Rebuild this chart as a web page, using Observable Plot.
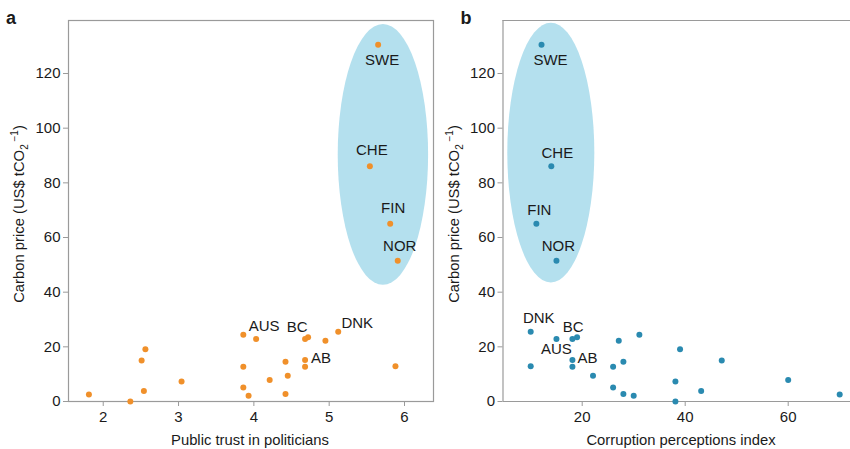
<!DOCTYPE html>
<html>
<head>
<meta charset="utf-8">
<script src="https://cdn.jsdelivr.net/npm/d3@7"></script>
<script src="https://cdn.jsdelivr.net/npm/@observablehq/plot@0.6"></script>
<style>
  body { margin: 0; background: white; }
  #wrap { display: flex; width: 850px; height: 449px; overflow: hidden; }
  svg { overflow: hidden; }
</style>
</head>
<body>
<div id="wrap"></div>
<script>
// ---- data ----
const codes = ["SWE","CHE","FIN","NOR","DNK","AUS","BC","AB","","","","","","","","","","","","","","","","","",""];
const carbonPrice = [130.5, 86.1, 65.0, 51.5, 25.5, 22.9, 23.5, 15.2, 24.4, 22.9, 22.2, 19.1, 15.0, 14.5, 12.9, 12.7, 12.7, 9.4, 7.9, 7.3, 5.1, 3.8, 2.7, 2.6, 2.1, 0];
const publicTrust = [5.65, 5.54, 5.81, 5.91, 5.12, 4.03, 4.72, 4.68, 3.86, 4.68, 4.95, 2.56, 2.51, 4.42, 5.88, 4.68, 3.86, 4.45, 4.21, 3.04, 3.86, 2.54, 4.42, 1.81, 3.93, 2.36];
const corruption = [12.1, 14.0, 11.1, 15.0, 10.0, 15.0, 19.0, 18.1, 31.1, 18.1, 27.1, 39.0, 47.1, 28.0, 10.0, 18.1, 26.0, 22.1, 60.0, 38.1, 26.0, 43.1, 28.0, 70.0, 30.0, 38.1];
const yTicks = [0, 20, 40, 60, 80, 100, 120];
const xTicksA = [2, 3, 4, 5, 6];
const xTicksB = [20, 40, 60];
// highlight ellipse (centre and half-axes in data units)
const ellipseA = {cx: 5.72, cy: 90.2, rx: 0.60, ry: 47.7};
const ellipseB = {cx: 14.0, cy: 90.9, rx: 8.45, ry: 47.5};

const rows = codes.map((c, i) => ({code: c, price: carbonPrice[i], trust: publicTrust[i], cpi: corruption[i]}));

// ---- label offsets (styling) ----
const offsA = {SWE:[4,15], CHE:[2,-16], FIN:[3,-16], NOR:[2,-15], AUS:[8,-13], BC:[-11,-10], AB:[16,-2], DNK:[19,-9]};
const offsB = {SWE:[9,15], CHE:[6,-13], FIN:[3,-14], NOR:[2,-15], DNK:[8,-14], BC:[-4,-10], AUS:[0,10], AB:[15,-2]};

const FONT = "'Liberation Sans', Arial, Helvetica, sans-serif";
const GRAY = "#9a9a9a";
const TXT = "#1a1a1a";

function ellipseMark(e) {
  return (index, scales) => {
    const x = scales.x, y = scales.y;
    return d3.create("svg:ellipse")
      .attr("cx", x(e.cx)).attr("cy", y(e.cy))
      .attr("rx", Math.abs(x(e.cx + e.rx) - x(e.cx)))
      .attr("ry", Math.abs(y(e.cy + e.ry) - y(e.cy)))
      .attr("fill", "#b4e0ee")
      .node();
  };
}

function labelMarks(xKey, offs) {
  return Object.entries(offs).map(([code, [dx, dy]]) =>
    Plot.text(rows.filter(d => d.code === code), {
      x: xKey, y: "price", text: "code", dx, dy,
      fontSize: 15, fill: TXT, textAnchor: "middle", lineAnchor: "middle"
    }));
}

function panel({width, marginLeft, marginRight, xDomain, xKey, xTicks, ell, offs, color, full}) {
  const ymax = 139.4;
  const frameMarks = full
    ? [Plot.frame({stroke: GRAY, strokeWidth: 1.2})]
    : [Plot.ruleX([xDomain[0]], {stroke: GRAY, strokeWidth: 1.2}),
       Plot.ruleY([ymax], {stroke: GRAY, strokeWidth: 1.2}),
       Plot.ruleY([0], {stroke: GRAY, strokeWidth: 1.2})];
  return Plot.plot({
    width, height: 449,
    marginLeft, marginRight, marginTop: 20, marginBottom: 48,
    style: {fontFamily: FONT, fontSize: "15px", color: TXT, background: "white", overflow: "hidden"},
    x: {domain: xDomain},
    y: {domain: [0, ymax]},
    marks: [
      ellipseMark(ell),
      ...frameMarks,
      Plot.axisY({ticks: yTicks, tickFormat: d3.format("d"), tickSize: 5, tickPadding: 3, stroke: GRAY, fill: TXT, label: null, fontSize: 15}),
      Plot.axisX({ticks: xTicks, tickFormat: d3.format("d"), tickSize: 5, tickPadding: 5, stroke: GRAY, fill: TXT, fontSize: 15,
                  label: null}),
      Plot.dot(rows, {x: xKey, y: "price", r: 3, fill: color, stroke: null}),
      ...labelMarks(xKey, offs)
    ]
  });
}

function decorate(svg, letter, letterX, titleX, xTitle, xTitleX) {
  const s = d3.select(svg);
  s.append("text").attr("x", letterX).attr("y", 24)
    .attr("font-family", FONT).attr("font-weight", "bold").attr("font-size", 18).attr("fill", TXT)
    .text(letter);
  const t = s.append("text")
    .attr("transform", `translate(${titleX},214) rotate(-90)`)
    .attr("text-anchor", "middle")
    .attr("font-family", FONT).attr("font-size", 14.8).attr("fill", TXT);
  t.append("tspan").text("Carbon price (US$ tCO");
  t.append("tspan").attr("font-size", 10).attr("dy", 4).text("2");
  t.append("tspan").attr("font-size", 10).attr("dy", -10).text(" \u2212");
  t.append("tspan").attr("font-size", 10).text("1");
  t.append("tspan").attr("dy", 6).text(")");
  s.append("text").attr("x", xTitleX).attr("y", 445)
    .attr("text-anchor", "middle")
    .attr("font-family", FONT).attr("font-size", 14.8).attr("fill", TXT)
    .text(xTitle);
}

const wrap = document.getElementById("wrap");

const svgA = panel({
  width: 435, marginLeft: 68, marginRight: 2,
  xDomain: [1.539, 6.385], xKey: "trust", xTicks: xTicksA,
  ell: ellipseA, offs: offsA, color: "#f0902a", full: true
});
decorate(svgA, "a", 11, 24, "Public trust in politicians", 250);
wrap.appendChild(svgA);

const svgB = panel({
  width: 415, marginLeft: 67.5, marginRight: 0,
  xDomain: [4.62, 72.1], xKey: "cpi", xTicks: xTicksB,
  ell: ellipseB, offs: offsB, color: "#2a8ab0", full: false
});
decorate(svgB, "b", 31, 24, "Corruption perceptions index", 246);
wrap.appendChild(svgB);
</script>
</body>
</html>
